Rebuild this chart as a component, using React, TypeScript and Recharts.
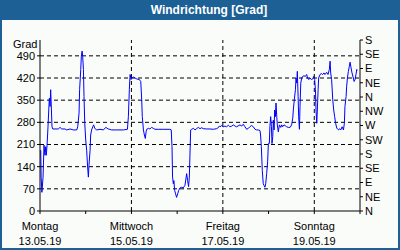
import { LineChart, Line, XAxis, YAxis, ReferenceLine } from 'recharts';

const hours = [
  0.4, 0.6, 1.0, 1.6, 2.1, 2.6, 3.0, 3.3, 3.7, 4.2, 4.6, 4.9, 5.3, 5.6, 6.0, 6.3, 6.7, 9.6, 10.5, 11.4,
  13.1, 14.0, 15.8, 17.5, 19.3, 19.8, 20.5, 20.8, 21.4, 21.7, 22.1, 22.4, 22.8, 23.1, 23.5, 24.0, 24.5, 25.0, 25.4, 25.7,
  26.3, 26.6, 27.1, 27.7, 28.2, 28.7, 29.8, 31.5, 33.3, 34.5, 35.9, 37.6, 40.3, 43.8, 45.9, 46.4, 46.9, 47.3, 47.8, 48.1,
  49.0, 49.9, 50.8, 52.2, 52.9, 53.4, 53.7, 54.3, 54.8, 55.3, 55.7, 56.0, 56.9, 57.7, 58.6, 59.5, 60.4, 62.1, 64.7, 68.2,
  68.9, 69.3, 69.6, 70.0, 70.3, 70.7, 71.2, 71.7, 72.3, 72.8, 73.5, 74.4, 75.2, 76.1, 77.0, 77.5, 78.0, 78.4, 78.7, 79.1,
  79.6, 80.5, 81.4, 82.2, 83.1, 84.0, 84.9, 85.7, 87.5, 89.2, 91.0, 92.7, 93.6, 94.1, 94.5, 95.4, 96.2, 97.1, 98.0, 98.9,
  99.7, 100.6, 101.5, 102.4, 103.2, 105.0, 105.9, 106.7, 107.6, 108.5, 109.4, 110.2, 111.1, 112.0, 112.9, 113.7, 114.6, 115.5, 115.8, 116.2,
  116.7, 117.2, 117.6, 118.1, 118.5, 119.0, 119.5, 119.9, 120.4, 120.7, 121.1, 121.5, 121.8, 122.2, 122.5, 122.9, 123.2, 123.6, 123.9, 124.3,
  124.6, 125.1, 125.7, 126.4, 126.9, 127.4, 128.1, 128.8, 129.5, 130.4, 131.3, 132.1, 132.7, 133.0, 133.5, 134.1, 134.4, 134.8, 135.1, 135.5,
  135.8, 136.2, 136.5, 136.9, 137.4, 137.9, 138.6, 139.3, 140.0, 140.5, 141.1, 141.8, 142.5, 143.2, 143.7, 144.2, 144.6, 144.9, 145.3, 145.6,
  146.0, 146.3, 147.0, 147.7, 148.4, 149.1, 149.6, 150.5, 151.2, 151.9, 152.3, 152.6, 153.1, 153.7, 154.2, 154.7, 155.2, 155.8, 156.3, 156.8,
  157.3, 157.9, 158.6, 159.3, 159.8, 160.1, 160.7, 161.0, 161.4, 161.9, 162.4, 162.8, 163.3, 163.8, 164.5, 164.9, 165.4, 165.9, 166.3, 166.6,
];

const direction = [
  192, 107, 59, 107, 208, 176, 203, 176, 208, 266, 319, 356, 330, 383, 319, 266, 259, 259, 264, 259,
  259, 256, 259, 256, 256, 266, 309, 383, 447, 489, 505, 489, 447, 362, 277, 224, 192, 139, 107, 143,
  192, 240, 256, 266, 272, 261, 256, 258, 256, 264, 259, 256, 256, 256, 258, 298, 383, 431, 415, 420,
  423, 420, 417, 415, 409, 351, 298, 256, 240, 229, 250, 258, 261, 259, 264, 261, 258, 258, 258, 258,
  256, 203, 107, 86, 96, 65, 54, 43, 54, 65, 73, 75, 73, 81, 118, 96, 77, 107, 171, 256,
  258, 261, 256, 260, 264, 260, 263, 260, 259, 259, 258, 260, 263, 268, 266, 270, 266, 268, 266, 271,
  266, 268, 272, 268, 266, 272, 268, 274, 266, 258, 261, 266, 270, 266, 258, 256, 256, 254, 240, 203,
  128, 86, 81, 75, 86, 118, 155, 213, 213, 266, 298, 266, 213, 235, 287, 256, 319, 298, 341, 298,
  272, 250, 272, 264, 272, 266, 272, 269, 266, 264, 264, 272, 293, 319, 351, 383, 420, 404, 441, 362,
  298, 258, 330, 404, 420, 425, 427, 425, 431, 420, 415, 420, 415, 417, 425, 415, 383, 319, 277, 319,
  383, 420, 431, 434, 431, 436, 431, 438, 431, 447, 473, 436, 415, 351, 319, 298, 277, 262, 258, 256,
  260, 256, 266, 256, 277, 330, 362, 394, 420, 441, 457, 470, 452, 436, 420, 409, 415, 431, 447, 444,
];

const gradTicks = [0, 70, 140, 210, 280, 350, 420, 490];
const compassTicks = [0, 45, 90, 135, 180, 225, 270, 315, 360, 405, 450, 495, 540];
const compassLabels = ['N', 'NE', 'E', 'SE', 'S', 'SW', 'W', 'NW', 'N', 'NE', 'E', 'SE', 'S'];
const hourTicks = [0, 24, 48, 72, 96, 120, 144, 168];
const dayTicks = [0, 48, 96, 144];
const dayNames = ['Montag', 'Mittwoch', 'Freitag', 'Sonntag'];
const dayDates = ['13.05.19', '15.05.19', '17.05.19', '19.05.19'];

const data = hours.map((h, i) => ({ h, dir: direction[i] }));

const font = '"Liberation Sans", Arial, sans-serif';
const tickStyle = { fill: '#000', fontSize: 11, fontFamily: font };

function DayTick(props: any) {
  const { x, y, payload } = props;
  const i = dayTicks.indexOf(payload.value);
  if (i < 0) return null;
  return (
    <g>
      <text x={x} y={y + 15.5} textAnchor="middle" {...tickStyle}>{dayNames[i]}</text>
      <text x={x} y={y + 30.5} textAnchor="middle" {...tickStyle}>{dayDates[i]}</text>
    </g>
  );
}

export default function App() {
  return (
    <div style={{ position: 'absolute', left: 0, top: 0, width: 400, height: 250, boxSizing: 'border-box', border: '2px solid #1d6096', background: '#fafcfa' }}>
      <div style={{ position: 'absolute', left: -2, top: -2, width: 400, height: 20, background: '#1d6096' }}>
        <span style={{ position: 'absolute', left: 209, top: 3, transform: 'translateX(-50%)', color: '#fff', fontWeight: 'bold', fontSize: 12, fontFamily: font, whiteSpace: 'nowrap', lineHeight: '14px' }}>
          Windrichtung [Grad]
        </span>
      </div>
      <span style={{ position: 'absolute', left: 11, top: 37, fontSize: 11, fontFamily: font, lineHeight: '11px', color: '#000' }}>Grad</span>
      <div style={{ position: 'absolute', left: -2, top: -2 }}>
        <LineChart width={400} height={250} data={data} margin={{ top: 40, right: 0, bottom: 0, left: 0 }}>
          <XAxis xAxisId="bottom" dataKey="h" type="number" domain={[0, 168]} ticks={hourTicks} interval={0}
            height={39} tickSize={3} tickMargin={0} stroke="#000" tick={<DayTick />} />
          <XAxis xAxisId="top" orientation="top" dataKey="h" type="number" domain={[0, 168]} height={0}
            tick={false} tickLine={false} stroke="#000" />
          <YAxis yAxisId="left" domain={[0, 540]} ticks={gradTicks} interval={0} width={40}
            tickSize={3} tickMargin={2} stroke="#000" tick={tickStyle} />
          <YAxis yAxisId="right" orientation="right" domain={[0, 540]} ticks={compassTicks} interval={0} width={40}
            allowDataOverflow tickSize={3} tickMargin={2} stroke="#000" tick={tickStyle}
            tickFormatter={(v: number) => compassLabels[compassTicks.indexOf(v)]} />
          {gradTicks.slice(1).map((v) => (
            <ReferenceLine key={'y' + v} xAxisId="bottom" yAxisId="left" y={v} stroke="#000" strokeDasharray="4 3" />
          ))}
          {dayTicks.slice(1).map((v) => (
            <ReferenceLine key={'x' + v} xAxisId="bottom" yAxisId="left" x={v} stroke="#000" strokeDasharray="4 3" />
          ))}
          <Line xAxisId="top" yAxisId="right" type="linear" dataKey="dir" stroke="none" strokeWidth={0}
            dot={false} activeDot={false} isAnimationActive={false} />
          <Line xAxisId="bottom" yAxisId="left" type="linear" dataKey="dir" stroke="#0000ff" strokeWidth={1}
            dot={false} isAnimationActive={false} />
        </LineChart>
      </div>
    </div>
  );
}
